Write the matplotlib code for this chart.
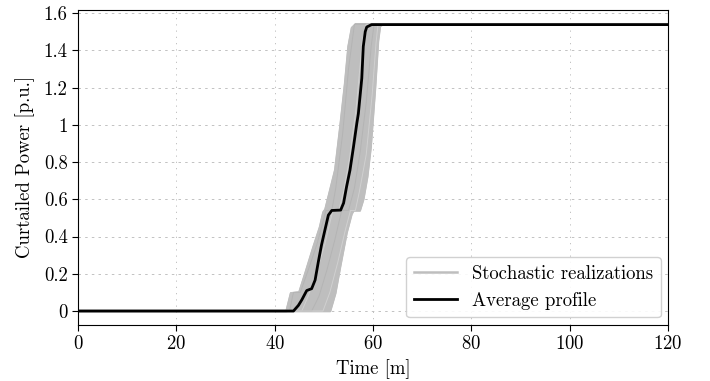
import numpy as np
import matplotlib
matplotlib.use("Agg")
import matplotlib.pyplot as plt
from matplotlib.ticker import FuncFormatter

# ---------------------------------------------------------------------------
#  Data
# ---------------------------------------------------------------------------

# earliest / latest realization -> envelope of the stochastic band
early_t = [0, 42.4, 43.3, 45.0, 46.2, 47.9, 49.2, 49.9, 50.3, 51.2, 52.3, 53.3, 54.3, 55.0, 55.7, 56.5, 120]
early_p = [0, 0.0, 0.095, 0.10, 0.20, 0.345, 0.45, 0.53, 0.545, 0.64, 0.757, 0.98, 1.22, 1.42, 1.52, 1.54, 1.54]
late_t = [0, 51.25, 52.3, 53.3, 54.6, 55.6, 56.0, 57.3, 58.0, 58.8, 59.5, 60.4, 61.0, 61.4, 62.0, 120]
late_p = [0, 0.0, 0.095, 0.24, 0.42, 0.52, 0.54, 0.54, 0.60, 0.72, 0.88, 1.20, 1.45, 1.53, 1.54, 1.54]

# a few individual realizations inside the band
real_t = [
    [0, 43.0, 43.8, 45.2, 46.8, 48.6, 50.4, 51.6, 52.4, 53.8, 55.0, 56.2, 120],
    [0, 45.5, 46.8, 48.4, 50.2, 51.8, 53.0, 54.0, 55.2, 56.6, 57.8, 58.6, 120],
    [0, 47.5, 49.0, 50.6, 52.2, 53.6, 55.0, 56.2, 57.4, 58.6, 59.6, 60.2, 120],
    [0, 49.8, 51.2, 52.8, 54.4, 55.4, 56.4, 57.2, 58.6, 59.8, 60.6, 61.0, 120],
]
real_p = [
    [0, 0.0, 0.10, 0.10, 0.22, 0.36, 0.54, 0.54, 0.66, 0.95, 1.30, 1.54, 1.54],
    [0, 0.0, 0.08, 0.20, 0.36, 0.54, 0.54, 0.64, 0.82, 1.10, 1.45, 1.54, 1.54],
    [0, 0.0, 0.08, 0.22, 0.38, 0.54, 0.54, 0.66, 0.86, 1.12, 1.42, 1.54, 1.54],
    [0, 0.0, 0.10, 0.26, 0.44, 0.54, 0.54, 0.64, 0.84, 1.16, 1.44, 1.54, 1.54],
]

# average profile
avg_t = [0, 43.8, 44.8, 45.5, 46.5, 47.5, 48.2, 48.9, 49.5, 50.2, 50.9, 51.6, 53.4, 54.0,
         54.6, 55.3, 56.0, 56.7, 57.0, 57.7, 58.0, 58.4, 58.7, 59.7, 120]
avg_p = [0, 0.0, 0.03, 0.06, 0.11, 0.12, 0.166, 0.27, 0.354, 0.435, 0.515, 0.54, 0.542, 0.58,
         0.667, 0.757, 0.88, 1.01, 1.06, 1.25, 1.42, 1.50, 1.525, 1.538, 1.538]

x_ticks = [0, 20, 40, 60, 80, 100, 120]
y_ticks = [0, 0.2, 0.4, 0.6, 0.8, 1.0, 1.2, 1.4, 1.6]

# ---------------------------------------------------------------------------
#  Style
# ---------------------------------------------------------------------------
plt.rcParams["font.family"] = "cmr10"
plt.rcParams["mathtext.fontset"] = "cm"
plt.rcParams["axes.formatter.use_mathtext"] = True
plt.rcParams["font.size"] = 13.5

GRAY = "#bebebe"

fig = plt.figure(figsize=(7.1, 3.81), dpi=100)
ax = fig.add_axes([0.110, 0.147, 0.831, 0.828])

# band of realizations
band_t = early_t + late_t[::-1]
band_p = early_p + late_p[::-1]
ax.fill(band_t, band_p, color=GRAY, lw=1.5, edgecolor=GRAY, zorder=2)
for i, (t, p) in enumerate(zip(real_t, real_p)):
    ax.plot(t, p, color="#d0d0d0" if i % 2 else "#b4b4b4", lw=0.7, zorder=2.5)

ax.plot(early_t, early_p, color=GRAY, lw=1.8, zorder=2, label="Stochastic realizations")
ax.plot(late_t, late_p, color=GRAY, lw=1.8, zorder=2)
ax.plot(avg_t, avg_p, color="black", lw=2.0, zorder=3, label="Average profile")

ax.set_xlim(0, 120)
ax.set_ylim(-0.075, 1.619)
ax.set_xticks(x_ticks)
ax.set_yticks(y_ticks)
ax.yaxis.set_major_formatter(FuncFormatter(lambda v, pos: f"{v:g}"))
ax.tick_params(direction="out", length=4, width=0.8)

ax.grid(True, axis="x", color="#b8b8b8", lw=0.6, linestyle=(0, (1.5, 6)))
ax.grid(True, axis="y", color="#b8b8b8", lw=0.6, linestyle=(0, (3, 5)))
ax.set_axisbelow(True)

ax.set_xlabel("Time [m]")
ax.set_ylabel("Curtailed Power [p.u.]", labelpad=6)

ax.legend(loc="lower right", fontsize=13.5, handlelength=2.3, framealpha=0.9,
          edgecolor="#cccccc", fancybox=True, borderaxespad=0.4)

fig.savefig("out.png", dpi=100)
